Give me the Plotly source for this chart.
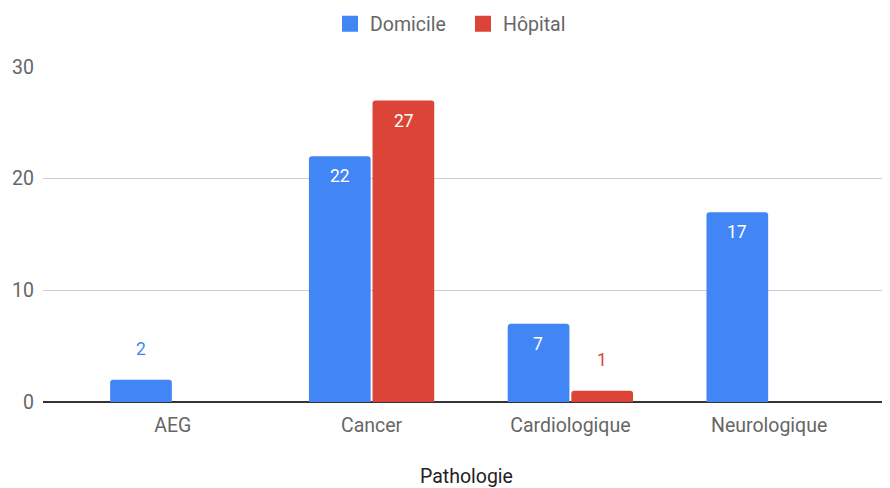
import plotly.graph_objs as go

categories = ["AEG", "Cancer", "Cardiologique", "Neurologique"]
domicile = [2, 22, 7, 17]
hopital = [0, 27, 1, 0]
series_names = ["Domicile", "Hôpital"]
colors = ["#4285F4", "#DB4437"]

fig = go.Figure()

for name, vals, col in zip(series_names, [domicile, hopital], colors):
    fig.add_trace(
        go.Bar(
            x=categories,
            y=vals,
            name=name,
            marker=dict(color=col, line=dict(width=0)),
            showlegend=False,
            legendgroup=name,
        )
    )

# legend entries with larger square swatches, like the Sheets legend
for name, col in zip(series_names, colors):
    fig.add_trace(
        go.Scatter(
            x=[None], y=[None],
            mode="markers",
            name=name,
            legendgroup=name,
            marker=dict(symbol="square", size=18, color=col),
        )
    )

# value labels: white inside tall bars, coloured above short ones
annotations = []
for i, (vals, col) in enumerate(zip([domicile, hopital], colors)):
    shift = -32 if i == 0 else 32
    for cat, v in zip(categories, vals):
        if v == 0:
            continue
        inside = v >= 5
        annotations.append(dict(
            x=cat, y=v, xref="x", yref="y",
            text=str(v), showarrow=False,
            xshift=shift, yshift=-20 if inside else 31,
            font=dict(color="white" if inside else col, size=17.5),
        ))

# page body has an 8px margin, so the figure is 8px smaller than the window
fig.update_layout(
    width=882,
    height=480,
    margin=dict(l=35, r=0, t=59, b=86, autoexpand=False),
    paper_bgcolor="white",
    plot_bgcolor="white",
    font=dict(family="Roboto", size=19.5, color="#666666"),
    barmode="group",
    bargap=0.36,
    bargroupgap=0.03,
    barcornerradius=3,
    showlegend=True,
    legend=dict(
        orientation="h",
        x=322 / 882, xanchor="left",
        y=1 - 16 / 480, yanchor="middle",
        xref="container", yref="container",
        font=dict(size=19.5, color="#666666"),
        itemwidth=30,
        itemsizing="trace",
        entrywidth=88,
    ),
    annotations=annotations,
    xaxis=dict(
        range=[-0.653, 3.608],
        showgrid=False,
        showline=False,
        ticks="",
        ticklabelstandoff=9,
        tickfont=dict(size=19.5, color="#666666"),
        title=dict(text="Pathologie", font=dict(size=19.5, color="#222222"), standoff=35),
    ),
    yaxis=dict(
        range=[0, 30],
        tickvals=[0, 10, 20, 30],
        showgrid=True,
        gridcolor="#cccccc",
        zeroline=True,
        zerolinecolor="#333333",
        zerolinewidth=1.5,
        ticks="",
        ticklabelstandoff=8,
        tickfont=dict(size=19.5, color="#666666"),
    ),
)

fig.write_html("out.html")
